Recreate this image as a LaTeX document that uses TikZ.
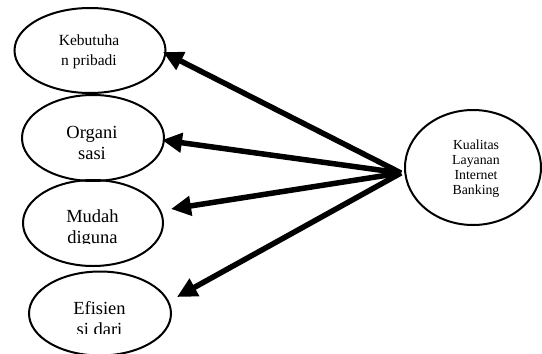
\documentclass[tikz,border=0pt]{standalone}
\usepackage{fontspec}
\setmainfont{Liberation Serif}
\usetikzlibrary{shapes.geometric,arrows.meta}
\tikzset{
  oval/.style={draw=black, line width=2pt, ellipse, inner sep=0pt},
  lbl/.style={align=center, inner sep=0pt},
  bigarrow/.style={line width=5.5pt, -{Triangle[length=20pt,width=19pt]}},
}
\begin{document}
\begin{tikzpicture}[x=1pt,y=-1pt]
\useasboundingbox (0,0) rectangle (542,354);
% ovals
\node[oval, minimum width=151pt, minimum height=85pt] (e1) at (90,50.5) {};
\node[oval, minimum width=142pt, minimum height=86pt] (e2) at (93,138) {};
\node[oval, minimum width=140pt, minimum height=86pt] (e3) at (93,223) {};
\node[oval, minimum width=142pt, minimum height=84pt] (e4) at (100,313.5) {};
\node[oval, minimum width=136pt, minimum height=115pt] (eq) at (473,167.5) {};
% labels
\node[lbl, font=\fontsize{15.5}{19.5}\selectfont] (l1) at (89,52) {Kebutuha\\n pribadi};
\node[lbl, font=\fontsize{18.5}{21}\selectfont] (l2) at (92,143) {Organi\\sasi};
\begin{scope}
  \clip (20,180) rectangle (170,243.5);
  \node[lbl, font=\fontsize{18.5}{21}\selectfont] (l3) at (92.5,229) {Mudah\\diguna};
\end{scope}
\begin{scope}
  \clip (25,272) rectangle (175,333);
  \node[lbl, font=\fontsize{18.5}{21}\selectfont] (l4) at (99.5,319) {Efisien\\si dari};
\end{scope}
\node[lbl, font=\fontsize{13.8}{15}\selectfont] (lq) at (476,168.5) {Kualitas\\Layanan\\Internet\\Banking};
% connectors
\coordinate (hub) at (401,173);
\coordinate (t1) at (163,52);
\coordinate (t2) at (162,140);
\coordinate (t3) at (171,209);
\coordinate (t4) at (177,297);
\draw[bigarrow] (hub) -- (t1);
\draw[bigarrow] (hub) -- (t2);
\draw[bigarrow] (hub) -- (t3);
\draw[bigarrow] (hub) -- (t4);
\end{tikzpicture}
\end{document}
